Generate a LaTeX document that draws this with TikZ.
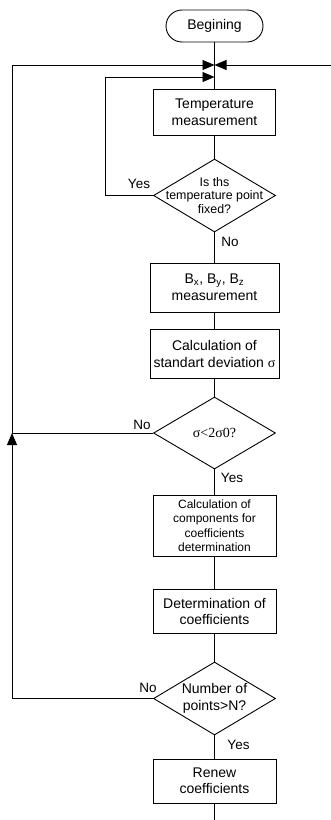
\documentclass[tikz,border=0pt]{standalone}
\usepackage{fontspec}
\setmainfont{Liberation Sans}
\newfontfamily\sigmafont{Liberation Serif}
\usetikzlibrary{shapes.geometric,arrows.meta}

\begin{document}
\begin{tikzpicture}[x=1pt,y=-1pt,line width=0.9pt,
  box/.style={draw,rectangle,minimum width=123,align=center,inner sep=0pt,
    font=\fontsize{14}{17}\selectfont},
  dec/.style={draw,diamond,minimum width=122,minimum height=73,inner sep=0pt},
  txt/.style={align=center,inner sep=0pt},
  lbl/.style={inner sep=0pt,font=\fontsize{13.5}{16}\selectfont},
  arr/.style={-{Triangle[length=12pt,width=10pt]}}]
\def\xc{214.5}
\def\xl{12}
\def\xf{105}
\def\ya{65}
\def\yb{77}
  \useasboundingbox (0,0) rectangle (331,820);

  \node[draw,rounded corners=16pt,minimum width=97,minimum height=32,inner sep=0pt,
    font=\fontsize{14}{17}\selectfont] (start) at (\xc,26) {Begining};
  \node[box,minimum width=122,minimum height=46] (temp) at (\xc,112) {Temperature\\measurement};
  \node[dec,label={[txt,font=\fontsize{12.4}{13.5}\selectfont]center:Is ths\\temperature point\\fixed?}]
    (fix) at (\xc,195.5) {};
  \node[box,minimum width=129,minimum height=49] (meas) at (\xc,287.5)
    {B\textsubscript{x}, B\textsubscript{y}, B\textsubscript{z}\\measurement};
  \node[box,minimum width=129,minimum height=49] (sdev) at (\xc,353.5)
    {Calculation of\\standart deviation {\sigmafont σ}};
  \node[dec,minimum height=72,label={[txt,font=\sigmafont\fontsize{14}{17}\selectfont]center:σ<2σ0?}]
    (cmp) at (\xc,433) {};
  \node[box,minimum height=61,font=\fontsize{12}{14.5}\selectfont] (comp) at (\xc,525.5)
    {Calculation of\\components for\\coefficients\\determination};
  \node[box,minimum height=44,font=\fontsize{14}{16}\selectfont] (coef) at (\xc,611)
    {Determination of\\coefficients};
  \node[dec,label={[txt,font=\fontsize{14}{17}\selectfont]center:Number of\\points>N?}]
    (num) at (\xc,698.5) {};
  \node[box,minimum height=44,font=\fontsize{14}{16}\selectfont] (renew) at (\xc,781)
    {Renew\\coefficients};

  \node[lbl] (yes1) at (139,184) {Yes};
  \node[lbl] (no1) at (230,242) {No};
  \node[lbl] (no2) at (142,424.5) {No};
  \node[lbl] (yes2) at (232,478) {Yes};
  \node[lbl] (no3) at (148,687.5) {No};
  \node[lbl] (yes3) at (238.5,744.5) {Yes};

  \coordinate (top) at (\xc,\ya);
  \coordinate (top2) at (\xc,\yb);
  \coordinate (rin) at (331,\ya);
  \coordinate (lt) at (\xl,\ya);
  \coordinate (lm) at (\xl,433);
  \coordinate (lb) at (\xl,698.5);
  \coordinate (ft) at (\xf,\yb);
  \coordinate (end) at (\xc,820);

  \draw (start) -- (temp);
  \draw (temp) -- (fix);
  \draw (fix) -- (meas);
  \draw (meas) -- (sdev);
  \draw (sdev) -- (cmp);
  \draw (cmp) -- (comp);
  \draw (comp) -- (coef);
  \draw (coef) -- (num);
  \draw (num) -- (renew);
  \draw (renew) -- (end);

  \draw[arr] (rin) -- (top);
  \draw[arr] (fix.west) -| (ft) -- (top2);
  \draw (cmp.west) -- (lm);
  \draw[arr] (num.west) -- (lb) -- (lm);
  \draw[arr] (lm) -- (lt) -- (top);
\end{tikzpicture}
\end{document}
